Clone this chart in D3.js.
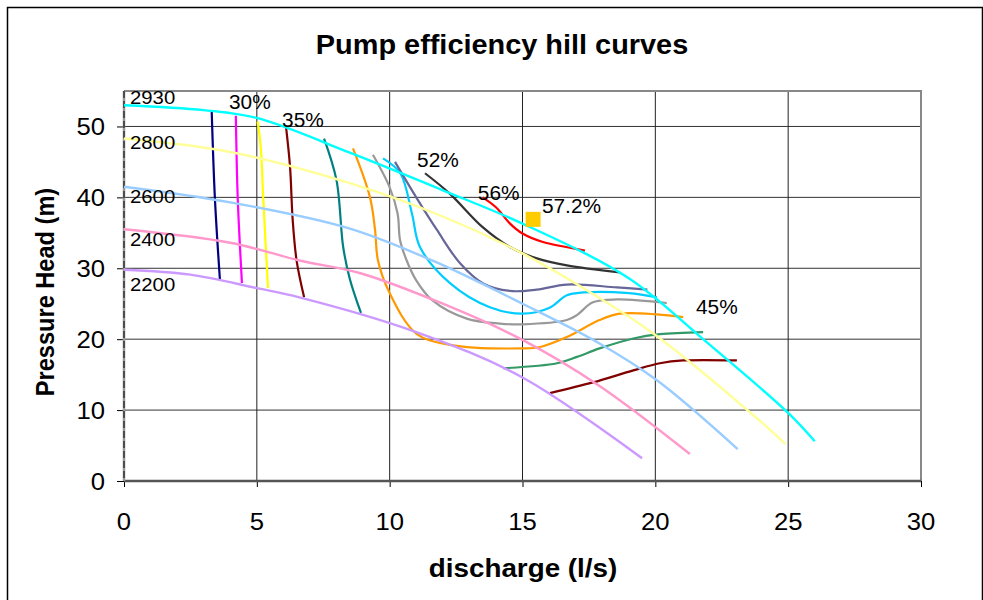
<!DOCTYPE html>
<html><head><meta charset="utf-8">
<script src="https://cdn.jsdelivr.net/npm/d3@7/dist/d3.min.js"></script>
<style>body{margin:0;background:#fff}svg{display:block}text{font-family:"Liberation Sans",Arial,sans-serif}</style>
</head><body>
<svg id="c" width="983" height="600"></svg>
<script>
// ---- data ----
const xTicks = [0,5,10,15,20,25,30];
const yTicks = [0,10,20,30,40,50];
const speeds = ["2930","2800","2600","2400","2200"];
const speedLabelH = [53.1,46.8,39.2,33.1,26.8];
// pump H-Q curves per speed (rpm): [discharge l/s, head m]
const hq2930 = [[0,53],[3,52.3],[5,51.2],[8.5,46.3],[12,41],[15,36.3],[19,28.6],[21.8,20],[25,9.6],[26,5.6]];
const hq2800 = [[0,48.3],[4,46.4],[8.5,42],[12,37.3],[15,32.1],[17.9,25.8],[20,20.6],[23.9,8.6],[24.9,5.2]];
const hq2600 = [[0,41.5],[4,39.3],[8.5,35.6],[11.6,31.1],[15,25],[17.9,19.4],[20.06,14.2],[23.1,4.5]];
const hq2400 = [[0,35.5],[4,33.6],[6.6,31.1],[8.9,29.3],[12,25],[15,19.9],[17.9,13.4],[21.3,3.8]];
const hq2200 = [[0,29.8],[2.5,29.1],[5,27.2],[6.6,25.9],[11,21],[15,14.6],[19.5,3.2]];
// iso-efficiency curves
const effA = [[3.3,52.3],[3.42,40],[3.61,28.4]];
const effB = [[4.21,51.5],[4.28,40],[4.44,27.9]];
const effC = [[5.03,50.7],[5.15,47],[5.24,40],[5.42,27.2]];
const effD = [[6.1,49.9],[6.25,44.3],[6.35,36.8],[6.5,31],[6.78,25.9]];
const effE = [[7.53,48.3],[8.0,42.4],[8.25,33],[8.5,28.5],[8.92,23.7]];
const effF = [[8.62,46.9],[9.26,40],[9.45,35.4],[9.56,31.1],[10.0,26.5],[11.0,20.8],[12.27,19.2],[15,18.7],[15.66,18.9],[16.67,20.3],[17.9,22.7],[18.67,23.6],[20.06,23.5],[21.05,23.1]];
const effG = [[9.37,46.0],[10.0,41.4],[10.3,37.7],[10.39,34],[10.64,31.1],[11.0,28.3],[11.6,25.5],[12.9,22.9],[14.15,22.2],[15,22.1],[16.67,22.7],[17.05,23.4],[17.65,25.2],[18.55,25.6],[20.43,25.1]];
const effH = [[9.75,45.5],[10.4,43.4],[10.84,37.7],[11.14,33],[12.27,27.9],[13.77,24.5],[15,23.6],[16.0,24.4],[16.67,26.2],[17.3,26.6],[19.0,26.5],[20.06,25.9]];
const effI = [[10.2,45],[11.0,40],[11.78,35.4],[12.65,30.7],[13.5,27.9],[14.53,26.8],[15.54,27],[16.67,27.7],[18.55,27.3],[19.7,27.0]];
const effJ = [[11.33,43.4],[12.27,40.5],[13.5,35.8],[14.53,33],[15.54,31.4],[16.67,30.4],[18.67,29.4]];
const effK = [[13.5,40],[14.0,38.6],[14.53,36.3],[15,34.9],[15.77,33.7],[17.35,32.5]];
const effL = [[14.27,15.9],[16.3,16.6],[17.05,17.5],[17.9,18.7],[19.17,20.1],[20.17,20.7],[21.8,21.0]];
const effM = [[16.03,12.4],[17.65,13.9],[19.17,15.6],[20.17,16.6],[21.05,17.0],[23.07,17.0]];
const bestPoint = [15.4,36.9];
const effLabels = ["30%","35%","52%","56%","57.2%","45%"];
const effLabelPos = [[3.95,52.4],[5.95,49.9],[11.03,44.3],[13.32,39.6],[15.73,37.8],[21.53,23.6]];

// ---- drawing ----
const svg = d3.select("#c");
const W=983,H=600;
const m={l:124,r:921,t:91,b:481};
const x=d3.scaleLinear().domain([0,30]).range([m.l,m.r]);
const y=d3.scaleLinear().domain([0,55]).range([m.b,m.t]);
const SX=1.07;
function txt(px,py,s,size,weight,anchor){
  return svg.append("text").attr("transform",`translate(${px},${py}) scale(${SX},1)`)
   .attr("font-size",size).attr("font-weight",weight||"normal").attr("text-anchor",anchor||"start")
   .attr("fill","#000").text(s);
}

// outer border
svg.append("path").attr("d",`M7.5,${H} V7.5 H982.5 V${H}`).attr("fill","none").attr("stroke","#000").attr("stroke-width",1.5);

// grid
const g=svg.append("g");
g.selectAll(".hg").data(yTicks.filter(d=>d>0)).join("line")
 .attr("x1",m.l).attr("x2",m.r).attr("y1",d=>y(d)).attr("y2",d=>y(d))
 .attr("stroke","#333").attr("stroke-width",1);
g.selectAll(".vg").data(xTicks.filter(d=>d>0&&d<30)).join("line")
 .attr("y1",m.t).attr("y2",m.b).attr("x1",d=>x(d)).attr("x2",d=>x(d))
 .attr("stroke","#222").attr("stroke-width",1);
// plot border
svg.append("path").attr("d",`M${m.l},${m.t} H${m.r} V${m.b}`).attr("fill","none").attr("stroke","#888").attr("stroke-width",2);

// axes (ticks via d3 axes, labels placed with the same scales)
const xa=svg.append("g").attr("transform",`translate(0,${m.b})`)
 .call(d3.axisBottom(x).tickValues(xTicks).tickSize(6).tickFormat(""));
xa.select(".domain").remove();
xa.selectAll("line").attr("stroke","#000");
svg.append("line").attr("x1",m.l).attr("x2",m.r).attr("y1",m.b).attr("y2",m.b).attr("stroke","#555").attr("stroke-width",2.5);
xTicks.forEach(d=>txt(x(d),530,String(d),24,"normal","middle"));

const ya=svg.append("g").attr("transform",`translate(${m.l},0)`)
 .call(d3.axisLeft(y).tickValues(yTicks).tickSize(7).tickFormat(""));
ya.select(".domain").remove();
ya.selectAll("line").attr("stroke","#000");
yTicks.forEach(d=>txt(105,y(d)+8.5,String(d),24,"normal","end"));
svg.append("line").attr("x1",m.l).attr("x2",m.l).attr("y1",m.t).attr("y2",m.b).attr("stroke","#999").attr("stroke-width",2.5);
svg.append("line").attr("x1",m.l).attr("x2",m.l).attr("y1",m.t).attr("y2",m.b).attr("stroke","#000").attr("stroke-width",1).attr("stroke-dasharray","7,3");

// curves
const line=d3.line().x(d=>x(d[0])).y(d=>y(d[1])).curve(d3.curveCatmullRom.alpha(0.5));
const cg=svg.append("g");
const hqCurves=[[hq2930,"#00FFFF"],[hq2800,"#FFFF99"],[hq2600,"#99CCFF"],[hq2400,"#FF99CC"],[hq2200,"#CC99FF"]];
const effCurves=[[effA,"#000080"],[effB,"#FF00FF"],[effC,"#FFFF00"],[effD,"#800000"],[effE,"#008080"],
 [effF,"#FF9900"],[effG,"#999999"],[effH,"#00CCFF"],[effI,"#666699"],[effJ,"#333333"],[effK,"#FF0000"],
 [effL,"#339966"],[effM,"#800000"]];
cg.selectAll(".eff").data(effCurves).join("path").attr("d",d=>line(d[0])).attr("fill","none")
 .attr("stroke",d=>d[1]).attr("stroke-width",2.2);
cg.selectAll(".hq").data(hqCurves).join("path").attr("d",d=>line(d[0])).attr("fill","none")
 .attr("stroke",d=>d[1]).attr("stroke-width",2.4);

// best efficiency point
svg.append("rect").attr("x",x(bestPoint[0])-7.5).attr("y",y(bestPoint[1])-7.5).attr("width",15).attr("height",15).attr("fill","#FFCC00");

// speed labels
speeds.forEach((s,i)=>txt(x(0)+6,y(speedLabelH[i]),s,19));
// efficiency labels
effLabels.forEach((s,i)=>txt(x(effLabelPos[i][0]),y(effLabelPos[i][1]),s,19.5));

// titles
txt(502,54,"Pump efficiency hill curves",27,"bold","middle");
txt(523,577,"discharge (l/s)",26,"bold","middle");
svg.append("text").attr("transform",`translate(54,292) rotate(-90) scale(1,${SX})`).attr("text-anchor","middle")
 .attr("font-size",23.6).attr("font-weight","bold").attr("fill","#000").text("Pressure Head (m)");
</script>
</body></html>
